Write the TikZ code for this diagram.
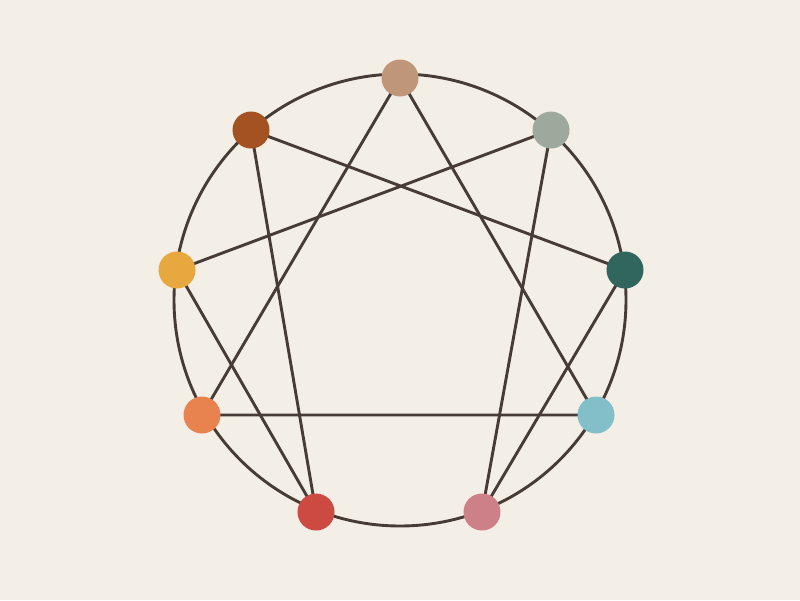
\documentclass[tikz,border=0pt]{standalone}
\definecolor{bg}{HTML}{F3EEE6}
\definecolor{ln}{HTML}{473C35}
\definecolor{c9}{HTML}{C0967A}
\definecolor{c1}{HTML}{9DA99C}
\definecolor{c2}{HTML}{31665F}
\definecolor{c3}{HTML}{83BFC8}
\definecolor{c4}{HTML}{CE8088}
\definecolor{c5}{HTML}{CC4A42}
\definecolor{c6}{HTML}{E8834F}
\definecolor{c7}{HTML}{E8A840}
\definecolor{c8}{HTML}{A55222}
\tikzset{pt/.style={circle,fill=#1,minimum size=37pt,inner sep=0pt},
  edge/.style={draw=ln,line width=2.9pt}}
\begin{document}
\begin{tikzpicture}[x=1pt,y=-1pt]
\fill[bg] (0,0) rectangle (800,600);
\useasboundingbox (0,0) rectangle (800,600);
\coordinate (c) at (400,300);
\draw[edge] (c) circle[radius=226];
\coordinate (p9) at (400,78);
\coordinate (p1) at (551,130);
\coordinate (p2) at (625,270);
\coordinate (p3) at (596,415);
\coordinate (p4) at (482,512);
\coordinate (p5) at (316,512);
\coordinate (p6) at (202,415);
\coordinate (p7) at (177,270);
\coordinate (p8) at (251,130);
\draw[edge] (p9) -- (p3) -- (p6) -- cycle;
\draw[edge] (p1) -- (p4) -- (p2) -- (p8) -- (p5) -- (p7) -- cycle;
\node[pt=c9] (n9) at (p9) {};
\node[pt=c1] (n1) at (p1) {};
\node[pt=c2] (n2) at (p2) {};
\node[pt=c3] (n3) at (p3) {};
\node[pt=c4] (n4) at (p4) {};
\node[pt=c5] (n5) at (p5) {};
\node[pt=c6] (n6) at (p6) {};
\node[pt=c7] (n7) at (p7) {};
\node[pt=c8] (n8) at (p8) {};
\end{tikzpicture}
\end{document}
